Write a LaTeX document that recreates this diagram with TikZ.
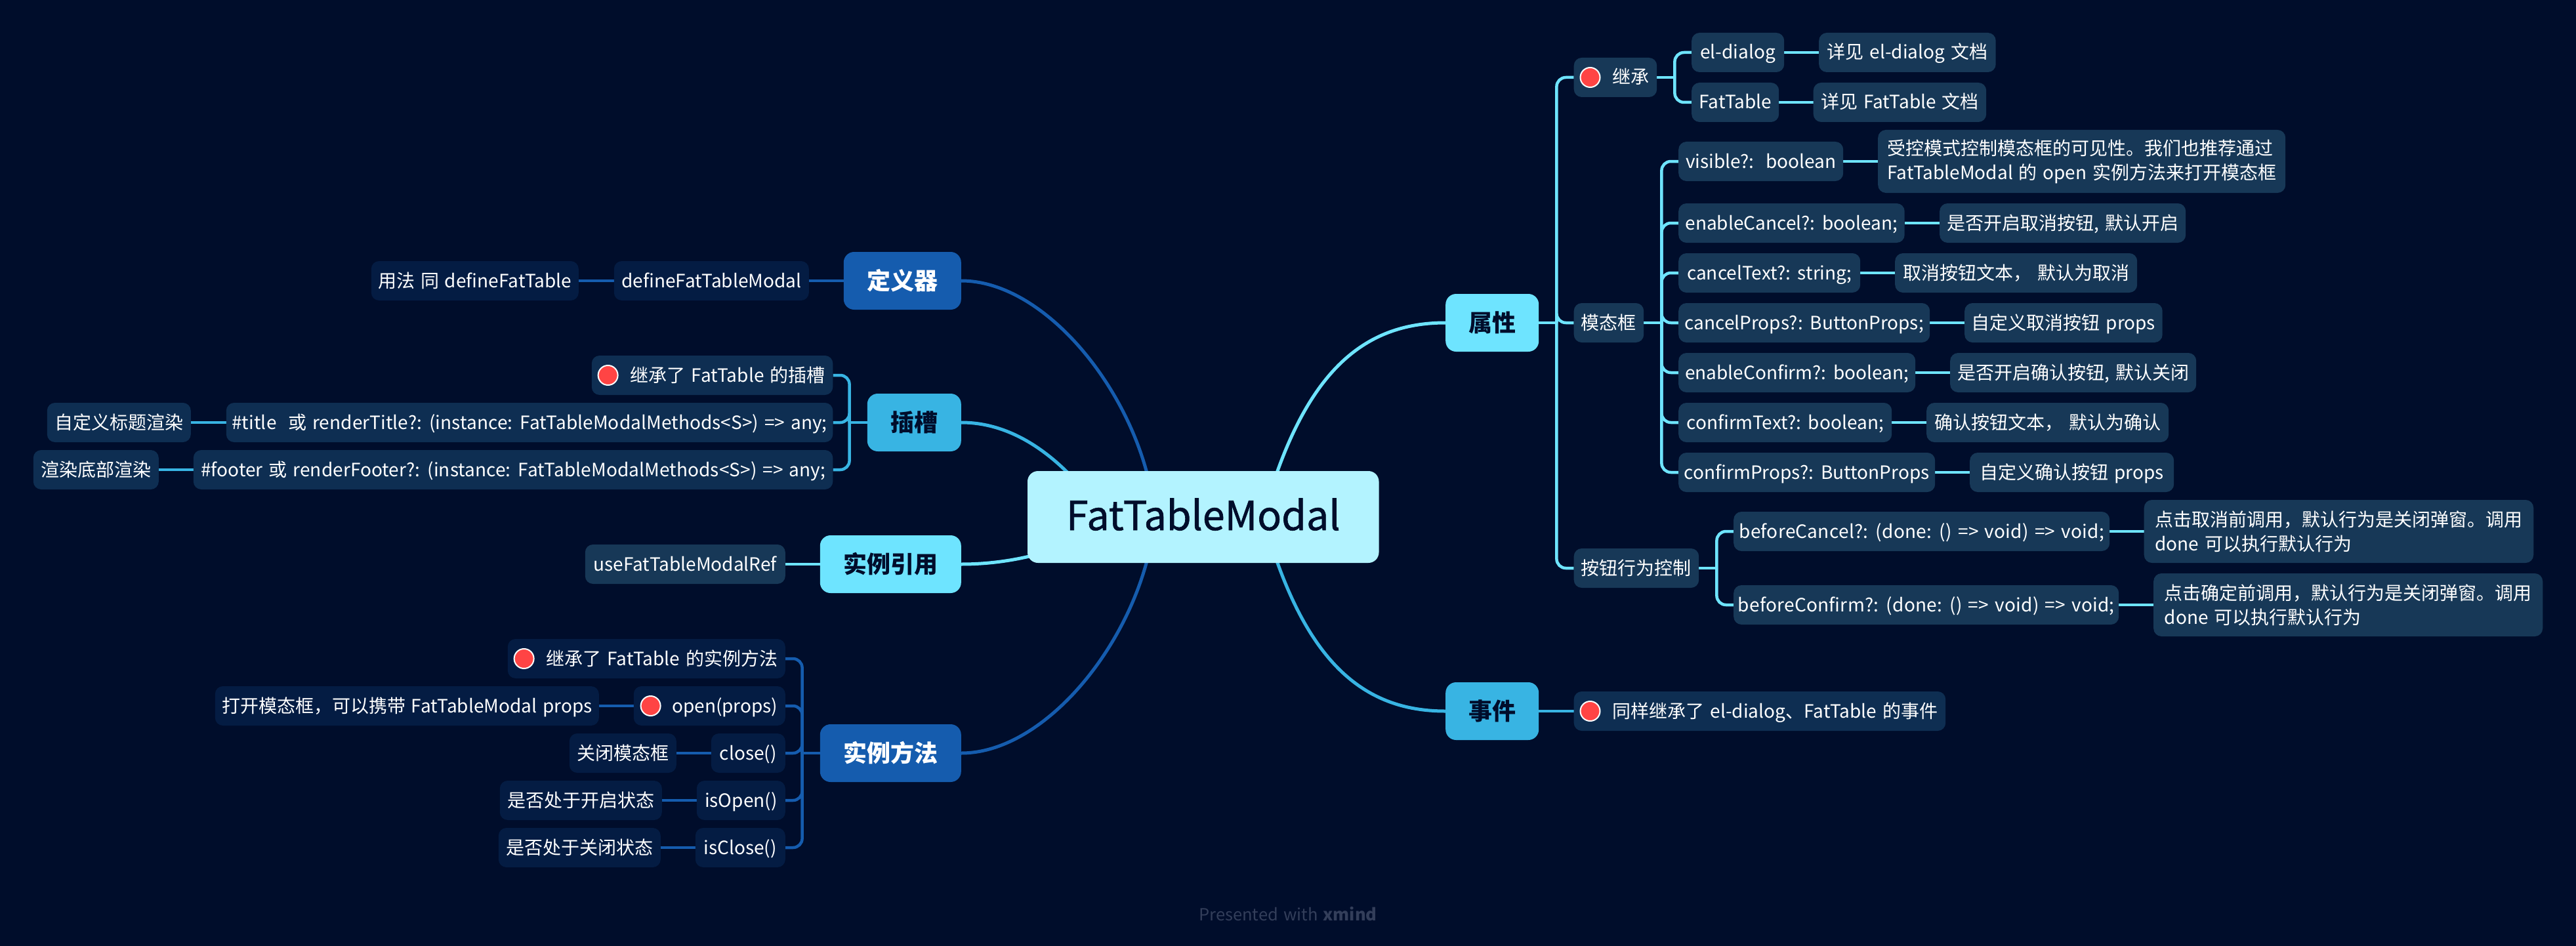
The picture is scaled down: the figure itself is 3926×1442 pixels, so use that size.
\documentclass[tikz,border=0pt]{standalone}
\usepackage{fontspec}
\setmainfont[WordSpace=1.4]{Noto Sans CJK SC}
\newfontfamily\rootfont[FakeBold=1]{Noto Sans CJK SC}
\usetikzlibrary{backgrounds}
\definecolor{pagebg}{HTML}{000D2B}
\definecolor{rootfill}{HTML}{B3F3FF}
\definecolor{skyfill}{HTML}{6EE4FF}
\definecolor{cyanfill}{HTML}{38B4E3}
\definecolor{bluefill}{HTML}{155CAE}
\definecolor{skykid}{HTML}{173857}
\definecolor{cyankid}{HTML}{0E2E52}
\definecolor{bluekid}{HTML}{041C43}
\definecolor{dotred}{HTML}{FF4444}
\definecolor{stamp}{HTML}{333E5A}
\newcommand{\markgap}{\hspace*{47pt}}

\begin{document}
\begin{tikzpicture}[
  x=1pt,y=-1pt,
  toptext/.style={inner sep=0,minimum height=88,rounded corners=16,
                  font=\fontsize{36}{44}\selectfont\bfseries,
                  text height=32,text depth=4.8},
  topsky/.style={toptext,fill=skyfill,text=pagebg},
  topcyan/.style={toptext,fill=cyanfill,text=pagebg},
  topblue/.style={toptext,fill=bluefill,text=white},
  kid/.style={inner sep=0,minimum height=60,rounded corners=12,text=white,
              font=\fontsize{28}{37}\selectfont,
              text height=24,text depth=4},
  kidsky/.style={kid,fill=skykid},
  kidcyan/.style={kid,fill=cyankid},
  kidblue/.style={kid,fill=bluekid},
  widecode/.style={font=\fontsize{28}{37}\selectfont\addfontfeature{LetterSpace=#1}},
  twoline/.style={minimum height=96,align=left,text height={},text depth={}},
  redmark/.style={circle,draw=white,line width=2,fill=dotred,inner sep=0,
                  minimum size=30},
  lnksky/.style={line width=4.5,draw=skyfill,rounded corners=14},
  lnkcyan/.style={line width=4.5,draw=cyanfill,rounded corners=14},
  lnkblue/.style={line width=4.5,draw=bluefill,rounded corners=14},
  bigcurve/.style={line width=5},
]
\useasboundingbox (0,0) rectangle (3926,1442);

% the centre
\node[inner sep=0,minimum width=535.5,minimum height=140,rounded corners=16,
      fill=rootfill,text=pagebg,font=\fontsize{61}{70}\selectfont\rootfont,
      text height=43,text depth=3]
      (root) at (1833.75,788) {FatTableModal};
\coordinate (rootl) at (1760,788);
\coordinate (rootr) at (1925,788);
\coordinate (slotin) at (1670,770);
\coordinate (refin) at (1640,825);

% right side: props
\node[topsky,anchor=west,minimum width=142] (attr) at (2203,492) {属性};
\node[kidsky,anchor=west,minimum width=126.5] (inherit) at (2398.5,118) {\markgap 继承};
\node[redmark] (inheritdot) at ([xshift=25]inherit.west) {};
\node[kidsky,anchor=west,minimum width=141] (eldlg) at (2578,80) {el-dialog};
\node[kidsky,anchor=west,minimum width=269.5] (eldlgdoc) at (2772,80) {详见 el-dialog 文档};
\node[kidsky,anchor=west,minimum width=133] (ftable) at (2578,156) {FatTable};
\node[kidsky,anchor=west,minimum width=263.5] (ftabledoc) at (2763.5,156) {详见 FatTable 文档};

\node[kidsky,anchor=west,minimum width=106.5] (modal) at (2398.5,492) {模态框};
\node[kidsky,anchor=west,minimum width=251] (visible) at (2558,246) {visible?:\ \ boolean};
\node[kidsky,twoline,anchor=west,minimum width=621] (visibledoc) at (2862,246)
     {受控模式控制模态框的可见性。我们也推荐通过\\FatTableModal 的 open 实例方法来打开模态框};
\node[kidsky,anchor=west,minimum width=344.5] (encancel) at (2558,340) {enableCancel?: boolean;};
\node[kidsky,anchor=west,minimum width=375] (encanceldoc) at (2956,340) {是否开启取消按钮, 默认开启};
\node[kidsky,anchor=west,minimum width=277] (canceltxt) at (2558,416) {cancelText?: string;};
\node[kidsky,anchor=west,minimum width=369] (canceltxtdoc) at (2888,416) {取消按钮文本， 默认为取消};
\node[kidsky,anchor=west,minimum width=383] (cancelpr) at (2558,492) {cancelProps?: ButtonProps;};
\node[kidsky,anchor=west,minimum width=301.5] (cancelprdoc) at (2994,492) {自定义取消按钮 props};
\node[kidsky,anchor=west,minimum width=361] (enconfirm) at (2558,568) {enableConfirm?: boolean;};
\node[kidsky,anchor=west,minimum width=375] (enconfirmdoc) at (2972,568) {是否开启确认按钮, 默认关闭};
\node[kidsky,anchor=west,minimum width=325] (conftxt) at (2558,644) {confirmText?: boolean;};
\node[kidsky,anchor=west,minimum width=369] (conftxtdoc) at (2936,644) {确认按钮文本， 默认为确认};
\node[kidsky,anchor=west,minimum width=391] (confpr) at (2558,720) {confirmProps?: ButtonProps};
\node[kidsky,anchor=west,minimum width=311] (confprdoc) at (3002,720) {自定义确认按钮 props};

\node[kidsky,anchor=west,minimum width=190.5] (btnctl) at (2398.5,866) {按钮行为控制};
\node[kidsky,widecode=1,anchor=west,minimum width=573] (befcancel) at (2642,810) {beforeCancel?: (done: () => void) => void;};
\node[kidsky,twoline,anchor=west,minimum width=593.5] (befcanceldoc) at (3267.5,810)
     {点击取消前调用，默认行为是关闭弹窗。调用\\done 可以执行默认行为};
\node[kidsky,widecode=1,anchor=west,minimum width=587] (befconfirm) at (2642,922) {beforeConfirm?: (done: () => void) => void;};
\node[kidsky,twoline,anchor=west,minimum width=593] (befconfirmdoc) at (3282,922)
     {点击确定前调用，默认行为是关闭弹窗。调用\\done 可以执行默认行为};

% right side: events
\node[topcyan,anchor=west,minimum width=142] (event) at (2203,1084) {事件};
\node[kidcyan,anchor=west,minimum width=566.5] (eventdoc) at (2398.5,1084) {\markgap 同样继承了 el-dialog、FatTable 的事件};
\node[redmark] (eventdot) at ([xshift=25]eventdoc.west) {};

% left side: definer
\node[topblue,anchor=east,minimum width=179] (define) at (1465,428) {定义器};
\node[kidblue,anchor=east,minimum width=297] (defmodal) at (1233,428) {defineFatTableModal};
\node[kidblue,anchor=east,minimum width=316] (defdoc) at (882,428) {用法 同 defineFatTable};

% left side: slots
\node[topcyan,anchor=east,minimum width=143] (slot) at (1465,644) {插槽};
\node[kidcyan,anchor=east,minimum width=367.5] (slotinh) at (1269.5,572) {\markgap 继承了 FatTable 的插槽};
\node[redmark] (slotdot) at ([xshift=25]slotinh.west) {};
\node[kidcyan,widecode=0.3,anchor=east,minimum width=924.5] (slottitle) at (1269.5,644)
     {\#title\ \ 或 renderTitle?: (instance: FatTableModalMethods<S>) => any;};
\node[kidcyan,anchor=east,minimum width=219] (titledoc) at (291,644) {自定义标题渲染};
\node[kidcyan,widecode=0.3,anchor=east,minimum width=974.5] (slotfoot) at (1269.5,716)
     {\#footer 或 renderFooter?: (instance: FatTableModalMethods<S>) => any;};
\node[kidcyan,anchor=east,minimum width=191] (footdoc) at (242,716) {渲染底部渲染};

% left side: ref
\node[topsky,anchor=east,minimum width=215] (instref) at (1465,860) {实例引用};
\node[kidsky,anchor=east,minimum width=305] (usemodal) at (1197,860) {useFatTableModalRef};

% left side: methods
\node[topblue,anchor=east,minimum width=215] (method) at (1465,1148) {实例方法};
\node[kidblue,anchor=east,minimum width=423] (methinh) at (1197,1004) {\markgap 继承了 FatTable 的实例方法};
\node[redmark] (methdot) at ([xshift=25]methinh.west) {};
\node[kidblue,anchor=east,minimum width=231] (methopen) at (1197,1076) {\markgap open(props)};
\node[redmark] (opendot) at ([xshift=26]methopen.west) {};
\node[kidblue,anchor=east,minimum width=585] (opendoc) at (913,1076) {打开模态框，可以携带 FatTableModal props};
\node[kidblue,anchor=east,minimum width=113] (methclose) at (1197,1148) {close()};
\node[kidblue,anchor=east,minimum width=163] (closedoc) at (1031,1148) {关闭模态框};
\node[kidblue,anchor=east,minimum width=135] (methisopen) at (1197,1220) {isOpen()};
\node[kidblue,anchor=east,minimum width=247] (isopendoc) at (1009,1220) {是否处于开启状态};
\node[kidblue,anchor=east,minimum width=137] (methisclose) at (1197,1292) {isClose()};
\node[kidblue,anchor=east,minimum width=247] (isclosedoc) at (1007,1292) {是否处于关闭状态};

\node[text=stamp,font=\fontsize{25.5}{30}\selectfont] (stampnote) at (1963,1393)
     {Presented with \textbf{xmind}};

% where each tree turns off its parent
\coordinate (attrturn) at ([xshift=27]attr.east);
\coordinate (inheritturn) at ([xshift=27]inherit.east);
\coordinate (modalturn) at ([xshift=27]modal.east);
\coordinate (btnctlturn) at ([xshift=27]btnctl.east);
\coordinate (slotturn) at ([xshift=-27]slot.west);
\coordinate (methodturn) at ([xshift=-27]method.west);

\begin{scope}[on background layer]
  \fill[pagebg] (0,0) rectangle (3926,1442);

  % the big curves run in under the centre box
  \draw[lnksky,bigcurve] (attr.west) .. controls (2075,492) and (1985,570) .. (rootr);
  \draw[lnkcyan,bigcurve] (event.west) .. controls (2075,1084) and (1985,1006) .. (rootr);
  \draw[lnkblue,bigcurve] (define.east) .. controls (1600,428) and (1745,616) .. (rootl);
  \draw[lnkcyan,bigcurve] (slot.east) .. controls (1540,644) and (1610,690) .. (slotin);
  \draw[lnksky,bigcurve] (instref.east) .. controls (1520,860) and (1580,850) .. (refin);
  \draw[lnkblue,bigcurve] (method.east) .. controls (1600,1148) and (1745,960) .. (rootl);

  % trees
  \draw[lnksky] (attr.east) -- (attrturn);
  \foreach \kid in {inherit,modal,btnctl}
    \draw[lnksky] (attrturn) |- (\kid.west);
  \draw[lnksky] (inherit.east) -- (inheritturn);
  \foreach \kid in {eldlg,ftable}
    \draw[lnksky] (inheritturn) |- (\kid.west);
  \draw[lnksky] (modal.east) -- (modalturn);
  \foreach \kid in {visible,encancel,canceltxt,cancelpr,enconfirm,conftxt,confpr}
    \draw[lnksky] (modalturn) |- (\kid.west);
  \draw[lnksky] (btnctl.east) -- (btnctlturn);
  \foreach \kid in {befcancel,befconfirm}
    \draw[lnksky] (btnctlturn) |- (\kid.west);
  \draw[lnkcyan] (slot.west) -- (slotturn);
  \foreach \kid in {slotinh,slottitle,slotfoot}
    \draw[lnkcyan] (slotturn) |- (\kid.east);
  \draw[lnkblue] (method.west) -- (methodturn);
  \foreach \kid in {methinh,methopen,methclose,methisopen,methisclose}
    \draw[lnkblue] (methodturn) |- (\kid.east);

  % single links
  \foreach \a/\b in {eldlg/eldlgdoc,ftable/ftabledoc,visible/visibledoc,
      encancel/encanceldoc,canceltxt/canceltxtdoc,cancelpr/cancelprdoc,
      enconfirm/enconfirmdoc,conftxt/conftxtdoc,confpr/confprdoc,
      befcancel/befcanceldoc,befconfirm/befconfirmdoc}
    \draw[lnksky] (\a.east) -- (\b.west);
  \draw[lnkcyan] (event.east) -- (eventdoc.west);
  \draw[lnksky] (instref.west) -- (usemodal.east);
  \draw[lnkcyan] (slottitle.west) -- (titledoc.east);
  \draw[lnkcyan] (slotfoot.west) -- (footdoc.east);
  \foreach \a/\b in {define/defmodal,defmodal/defdoc,methopen/opendoc,
      methclose/closedoc,methisopen/isopendoc,methisclose/isclosedoc}
    \draw[lnkblue] (\a.west) -- (\b.east);
\end{scope}
\end{tikzpicture}
\end{document}
